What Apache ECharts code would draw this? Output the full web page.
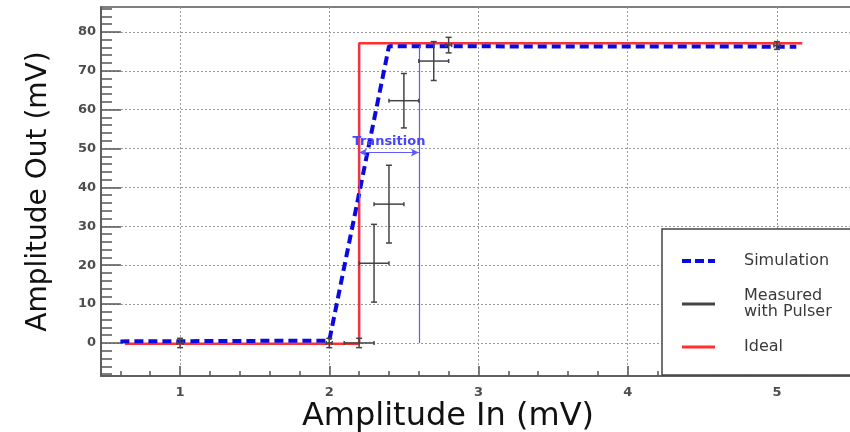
<!DOCTYPE html>
<html>
<head>
<meta charset="utf-8">
<script src="https://cdn.jsdelivr.net/npm/echarts@6/dist/echarts.min.js"></script>
<style>
html, body { margin: 0; padding: 0; background: #fff; }
#chart { width: 850px; height: 432px; }
</style>
</head>
<body>
<div id="chart"></div>
<script>
// axis ranges + ticks
const xRange = [0.47, 5.51];
const yRange = [-8.5, 86.4];
const xMajorTicks = [1, 2, 3, 4, 5];
const yMajorTicks = [0, 10, 20, 30, 40, 50, 60, 70, 80];
const xMinorStep = 0.2;
const yMinorStep = 2;

// simulation (blue dashed)
const simX = [0.6, 2.0, 2.4, 5.13];
const simY = [0.4, 0.6, 76.3, 76.2];

// ideal response (red)
const idealX = [0.63, 2.2, 2.2, 5.17];
const idealY = [-0.2, -0.2, 77.1, 77.1];

// measured with pulser, with errors
const measX = [1.0, 2.0, 2.2, 2.3, 2.4, 2.5, 2.7, 2.8, 5.0];
const measY = [0.0, 0.0, 0.0, 20.5, 35.7, 62.3, 72.5, 76.6, 76.5];
const measXErr = [0.02, 0.02, 0.1, 0.1, 0.1, 0.1, 0.1, 0.02, 0.02];
const measYErr = [1.2, 1.2, 1.2, 10, 10, 7, 5, 2, 1];

// transition annotation
const transitionFrom = 2.2;
const transitionTo = 2.6;
const transitionTop = 76.4;
const transitionArrowY = 49;

const SIM = 'Simulation';
const MEAS = 'Measured\nwith Pulser';
const IDEAL = 'Ideal';

const SIM_COLOR = '#0a0ae0';
const IDEAL_COLOR = '#ff3030';
const MEAS_COLOR = '#444';

function minorTicks(range, step, majors) {
  const out = [];
  for (let v = Math.ceil(range[0] / step) * step; v < range[1]; v += step) {
    const r = Math.round(v * 1000) / 1000;
    if (majors.indexOf(r) < 0) out.push(r);
  }
  return out;
}

function pairs(xs, ys) {
  return xs.map((x, i) => [x, ys[i]]);
}

function renderErrorBar(params, api) {
  const x = api.value(0), y = api.value(1), xe = api.value(2), ye = api.value(3);
  const c = api.coord([x, y]);
  const l = api.coord([x - xe, y]);
  const r = api.coord([x + xe, y]);
  const t = api.coord([x, y + ye]);
  const b = api.coord([x, y - ye]);
  const style = { stroke: MEAS_COLOR, lineWidth: 1.5 };
  const seg = (x1, y1, x2, y2) => ({ type: 'line', shape: { x1, y1, x2, y2 }, style });
  return {
    type: 'group',
    children: [
      seg(l[0], c[1], r[0], c[1]),
      seg(c[0], t[1], c[0], b[1]),
      seg(c[0] - 3, t[1], c[0] + 3, t[1]),
      seg(c[0] - 3, b[1], c[0] + 3, b[1]),
      seg(l[0], c[1] - 2, l[0], c[1] + 2),
      seg(r[0], c[1] - 2, r[0], c[1] + 2)
    ]
  };
}

const chart = echarts.init(document.getElementById('chart'));

const labelFont = { fontFamily: 'DejaVu Sans', fontWeight: 'bold', fontSize: 13, color: '#4d4d4d' };
const axisLineStyle = { color: '#555', width: 1.5 };
const gridLineStyle = { color: '#9a9a9a', type: [2, 2], width: 1 };

const option = {
  animation: false,
  backgroundColor: '#fff',
  grid: {
    left: 101, top: 7, width: 752, height: 369,
    outerBoundsMode: 'none', containLabel: false,
    show: true, borderColor: '#555', borderWidth: 1.5, backgroundColor: 'transparent'
  },
  xAxis: [
    {
      type: 'value', min: xRange[0], max: xRange[1], position: 'bottom',
      name: 'Amplitude In (mV)', nameLocation: 'middle', nameGap: 25, nameMoveOverlap: false,
      nameTextStyle: { fontFamily: 'DejaVu Sans', fontSize: 32, color: '#111', padding: [0, 58, 0, 0] },
      axisLine: { onZero: false, lineStyle: axisLineStyle },
      axisTick: { inside: true, length: 10, customValues: xMajorTicks, lineStyle: axisLineStyle },
      axisLabel: Object.assign({ margin: 10, customValues: xMajorTicks }, labelFont),
      splitLine: { show: true, lineStyle: gridLineStyle }
    },
    {
      type: 'value', min: xRange[0], max: xRange[1], position: 'bottom',
      axisLine: { show: false, onZero: false },
      axisTick: { inside: true, length: 5, customValues: minorTicks(xRange, xMinorStep, xMajorTicks), lineStyle: axisLineStyle },
      axisLabel: { show: false },
      splitLine: { show: false }
    }
  ],
  yAxis: [
    {
      type: 'value', min: yRange[0], max: yRange[1], position: 'left', splitNumber: 9,
      name: 'Amplitude Out (mV)', nameLocation: 'middle', nameGap: 48, nameMoveOverlap: false,
      nameTextStyle: { fontFamily: 'DejaVu Sans', fontSize: 28, color: '#111' },
      axisLine: { onZero: false, lineStyle: axisLineStyle },
      axisTick: { inside: true, length: 20, customValues: yMajorTicks, lineStyle: axisLineStyle },
      axisLabel: Object.assign({ margin: 5, customValues: yMajorTicks }, labelFont),
      splitLine: { show: true, lineStyle: gridLineStyle }
    },
    {
      type: 'value', min: yRange[0], max: yRange[1], position: 'left',
      axisLine: { show: false, onZero: false },
      axisTick: { inside: true, length: 11, customValues: minorTicks(yRange, yMinorStep, yMajorTicks), lineStyle: axisLineStyle },
      axisLabel: { show: false },
      splitLine: { show: false }
    }
  ],
  legend: {
    orient: 'vertical',
    left: 662, top: 229,
    padding: [24, 40, 20, 20],
    itemGap: 19,
    itemWidth: 33, itemHeight: 14,
    backgroundColor: '#fff',
    borderColor: '#444', borderWidth: 1.5, borderRadius: 0,
    selectedMode: false,
    z: 20,
    textStyle: { fontFamily: 'DejaVu Sans', fontSize: 16, color: '#3a3a3a', lineHeight: 16, padding: [0, 0, 0, 24] },
    data: [
      { name: SIM, icon: 'path://M0,0L9,0L9,4L0,4Z M13,0L22,0L22,4L13,4Z M26,0L33,0L33,4L26,4Z', itemStyle: { color: SIM_COLOR } },
      { name: MEAS, icon: 'path://M0,0L33,0L33,3L0,3Z', itemStyle: { color: MEAS_COLOR } },
      { name: IDEAL, icon: 'path://M0,0L33,0L33,3L0,3Z', itemStyle: { color: IDEAL_COLOR } }
    ]
  },
  series: [
    {
      name: 'Transition', type: 'line', data: [], z: 2,
      markLine: {
        silent: true, symbol: ['none', 'none'], animation: false,
        lineStyle: { color: '#5b5bff', width: 1.2, type: 'solid' },
        label: { show: false },
        data: [
          [{ coord: [transitionFrom, 0] }, { coord: [transitionFrom, transitionTop] }],
          [{ coord: [transitionTo, 0] }, { coord: [transitionTo, transitionTop] }],
          [
            { coord: [transitionFrom, transitionArrowY], symbol: 'arrow', symbolSize: [6, 8] },
            {
              coord: [transitionTo, transitionArrowY], symbol: 'arrow', symbolSize: [6, 8],
              label: {
                show: true, position: 'middle', formatter: 'Transition', distance: 4,
                fontFamily: 'DejaVu Sans', fontWeight: 'bold', fontSize: 13, color: '#4646ff'
              }
            }
          ]
        ]
      }
    },
    {
      name: IDEAL, type: 'line', data: pairs(idealX, idealY), z: 3,
      symbol: 'none', color: IDEAL_COLOR,
      lineStyle: { color: IDEAL_COLOR, width: 2.5 }
    },
    {
      name: SIM, type: 'line', data: pairs(simX, simY), z: 4,
      symbol: 'none', color: SIM_COLOR,
      lineStyle: { color: SIM_COLOR, width: 4, type: [9, 5] }
    },
    {
      name: MEAS, type: 'custom', z: 5,
      dimensions: ['x', 'y', 'xe', 'ye'],
      encode: { x: 0, y: 1 },
      renderItem: renderErrorBar,
      itemStyle: { color: MEAS_COLOR },
      data: measX.map((x, i) => [x, measY[i], measXErr[i], measYErr[i]])
    }
  ]
};

chart.setOption(option);
</script>
</body>
</html>
